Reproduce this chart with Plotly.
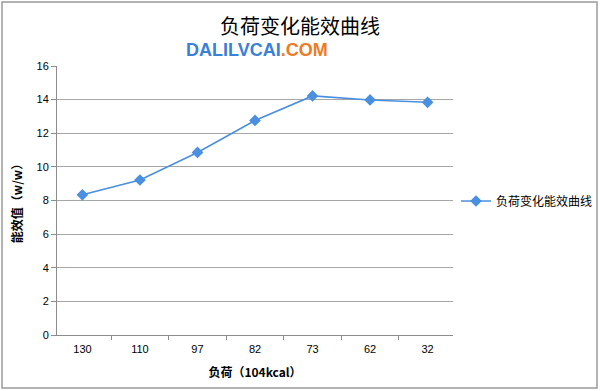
import plotly.graph_objects as go

categories = ["130", "110", "97", "82", "73", "62", "32"]
values = [8.34, 9.22, 10.86, 12.76, 14.22, 13.98, 13.84]
series_name = "负荷变化能效曲线"
y_ticks = [0, 2, 4, 6, 8, 10, 12, 14, 16]

W, H = 600, 391
L, R, T, B = 57, 147, 66, 56
pw, ph = W - L - R, H - T - B

def px_x(px):
    return (px - L) / pw

def px_y(py):
    return 1 - (py - T) / ph

fig = go.Figure()
fig.add_trace(go.Scatter(
    x=categories, y=values, mode="lines+markers", name=series_name,
    line=dict(color="#4a8fe0", width=1.6),
    marker=dict(symbol="diamond", size=9, color="#4a8fe0"),
))

fig.update_layout(
    width=W, height=H,
    margin=dict(l=L, r=R, t=T, b=B, autoexpand=False),
    paper_bgcolor="white", plot_bgcolor="white",
    font=dict(family="Liberation Sans, DejaVu Sans, Noto Sans CJK SC", size=11, color="#000"),
    showlegend=True,
    legend=dict(x=px_x(456), y=px_y(201), xanchor="left", yanchor="middle",
                font=dict(size=12, family="Noto Sans CJK SC"), bgcolor="rgba(0,0,0,0)",
                itemwidth=30),
    xaxis=dict(type="category", showgrid=False, showline=True, linecolor="#8c8c8c",
               ticks="outside", tickson="boundaries", ticklen=4, tickcolor="#8c8c8c",
               tickfont=dict(size=11), automargin=False, ticklabelstandoff=4,
               title=dict(text="<b>负荷（104kcal）</b>", font=dict(size=12, family="Noto Sans CJK SC"), standoff=14)),
    yaxis=dict(range=[0, 16], tickvals=y_ticks, showgrid=True, gridcolor="#a6a6a6", gridwidth=1,
               showline=True, linecolor="#8c8c8c", ticks="outside", ticklen=5, tickcolor="#8c8c8c",
               tickfont=dict(size=11), zeroline=False, automargin=False,
               title=dict(text="<b>能效值（w/w）</b>", font=dict(size=12, family="Noto Sans CJK SC"), standoff=11)),
)

fig.add_annotation(x=px_x(300), y=px_y(26), xref="paper", yref="paper", xanchor="center", yanchor="middle",
                   text="负荷变化能效曲线", showarrow=False,
                   font=dict(size=20, family="Noto Sans CJK SC", color="#000"))
fig.add_annotation(x=px_x(257), y=px_y(50), xref="paper", yref="paper", xanchor="center", yanchor="middle",
                   text="<b><span style='color:#3a80d8'>DALILVCAI</span><span style='color:#f07a22'>.COM</span></b>",
                   showarrow=False, font=dict(size=18, family="Liberation Sans"))

fig.add_shape(type="rect", xref="paper", yref="paper",
              x0=px_x(2), x1=px_x(597), y0=px_y(388), y1=px_y(2),
              line=dict(color="#9a9a9a", width=1.5), fillcolor="rgba(0,0,0,0)", layer="below")

fig.write_html("out.html", config={"displayModeBar": False},
               post_script="document.body.style.margin='0';document.body.style.overflow='hidden';")
